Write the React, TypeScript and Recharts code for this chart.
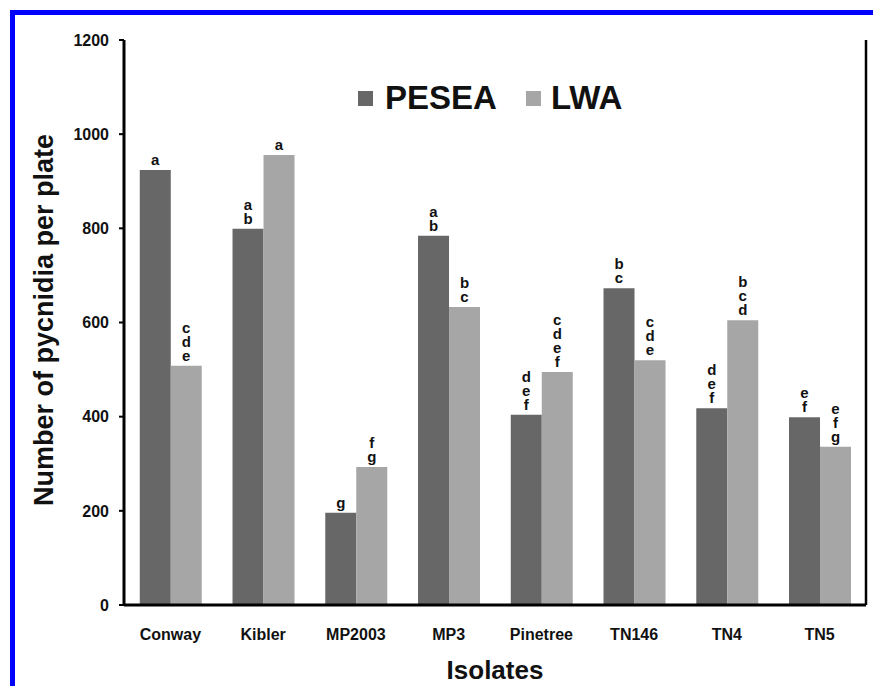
import React from "react"
import { BarChart, Bar, XAxis, YAxis, LabelList } from "recharts"

const isolates = ["Conway", "Kibler", "MP2003", "MP3", "Pinetree", "TN146", "TN4", "TN5"]
const pesea = [924, 799, 196, 784, 404, 673, 418, 399]
const lwa = [508, 956, 293, 633, 495, 520, 605, 336]
const peseaLetters = ["a", "ab", "g", "ab", "def", "bc", "def", "ef"]
const lwaLetters = ["cde", "a", "fg", "bc", "cdef", "cde", "bcd", "efg"]
const yTicks = [0, 200, 400, 600, 800, 1000, 1200]

const data = isolates.map((name, i) => ({
  name,
  pesea: pesea[i],
  lwa: lwa[i],
  peseaLetters: peseaLetters[i],
  lwaLetters: lwaLetters[i],
}))

const FONT = "'Liberation Sans', Arial, sans-serif"

// letters stacked upward from the bar top, one text element with tspans
function StackLabel(props: any) {
  const { x, y, width, value } = props
  const letters = String(value ?? "").split("")
  const n = letters.length
  const cx = x + width / 2
  const step = 14
  return (
    <text
      x={cx}
      y={y - 5 - (n - 1) * step}
      textAnchor="middle"
      fontFamily={FONT}
      fontWeight="bold"
      fontSize={15}
      fill="#111"
    >
      {letters.map((l, i) => (
        <tspan key={i} x={cx} dy={i === 0 ? 0 : step}>
          {l}
        </tspan>
      ))}
    </text>
  )
}

export default function App() {
  return (
    <div style={{ position: "absolute", left: 0, top: 0, width: 873, height: 686, background: "#fff", overflow: "hidden" }}>
      {/* blue frame */}
      <div style={{ position: "absolute", left: 10, top: 10, width: 863, height: 5, background: "#0000ff" }} />
      <div style={{ position: "absolute", left: 10, top: 10, width: 5, height: 676, background: "#0000ff" }} />

      <div style={{ position: "absolute", left: 0, top: 0 }}>
        <BarChart
          width={873}
          height={686}
          data={data}
          margin={{ top: 40, right: 6, left: 0, bottom: 0 }}
          barCategoryGap="17%"
          barGap={0}
        >
          <XAxis
            dataKey="name"
            height={81}
            tickLine={false}
            tickSize={0}
            tickMargin={24}
            axisLine={{ stroke: "#000", strokeWidth: 3 }}
            tick={{ fontFamily: FONT, fontWeight: "bold", fontSize: 16, fill: "#111" }}
            label={{
              content: () => (
                <text
                  x={495}
                  y={679}
                  textAnchor="middle"
                  fontFamily={FONT}
                  fontWeight="bold"
                  fontSize={26}
                  fill="#111"
                >
                  Isolates
                </text>
              ),
            }}
          />
          <XAxis xAxisId="top" dataKey="name" orientation="top" height={0} tick={false} tickLine={false} axisLine={{ stroke: "#000", strokeWidth: 2.5 }} />
          <YAxis
            width={124}
            domain={[0, 1200]}
            ticks={yTicks}
            interval={0}
            tickSize={5}
            tickMargin={10}
            tickLine={{ stroke: "#000", strokeWidth: 2 }}
            axisLine={{ stroke: "#000", strokeWidth: 3 }}
            tick={{ fontFamily: FONT, fontWeight: "bold", fontSize: 16, fill: "#111" }}
            label={{
              content: () => (
                <text
                  x={44}
                  y={320}
                  transform="rotate(-90 44 320)"
                  textAnchor="middle"
                  dominantBaseline="central"
                  fontFamily={FONT}
                  fontWeight="bold"
                  fontSize={27}
                  fill="#111"
                >
                  Number of pycnidia per plate
                </text>
              ),
            }}
          />
          <YAxis yAxisId="right" orientation="right" width={1} domain={[0, 1200]} tick={false} tickLine={false} axisLine={{ stroke: "#000", strokeWidth: 2.5 }} />
          <Bar dataKey="pesea" name="PESEA" fill="#676767" isAnimationActive={false}>
            <LabelList dataKey="peseaLetters" content={(p: any) => <StackLabel {...p} />} />
          </Bar>
          <Bar dataKey="lwa" name="LWA" fill="#a6a6a6" isAnimationActive={false}>
            <LabelList dataKey="lwaLetters" content={(p: any) => <StackLabel {...p} />} />
          </Bar>
        </BarChart>
      </div>

      {/* legend */}
      <div style={{ position: "absolute", left: 358, top: 80, display: "flex", alignItems: "center", fontFamily: FONT, fontWeight: "bold", fontSize: 33, color: "#111", lineHeight: "36px" }}>
        <span style={{ display: "inline-block", width: 15, height: 15, background: "#676767", marginRight: 12 }} />
        <span>PESEA</span>
        <span style={{ display: "inline-block", width: 15, height: 15, background: "#a6a6a6", marginLeft: 29, marginRight: 10 }} />
        <span>LWA</span>
      </div>
    </div>
  )
}
